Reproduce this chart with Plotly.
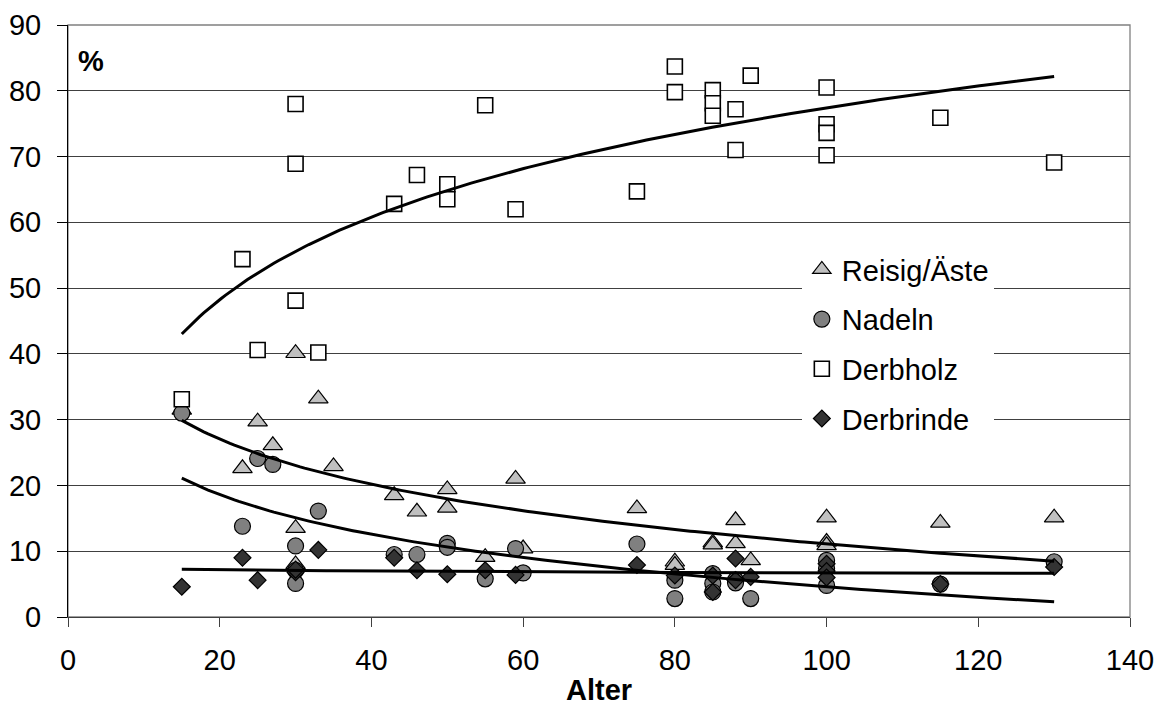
import numpy as np
import plotly.graph_objects as go

# ---------------- data ----------------
reisig_x = [15, 23, 25, 27, 30, 30, 30, 33, 35, 43, 46, 50, 50, 55, 59, 60, 75, 80, 80,
            85, 85, 88, 88, 90, 100, 100, 100, 115, 130]
reisig_y = [31.5, 22.6, 29.7, 26.1, 40.1, 13.5, 8.0, 33.2, 22.9, 18.5, 16.0, 19.4, 16.6,
            9.1, 21.0, 10.4, 16.5, 8.4, 7.9, 11.3, 11.0, 14.7, 11.2, 8.6, 15.1, 11.4, 10.9,
            14.3, 15.1]

nadeln_x = [15, 23, 25, 27, 30, 30, 30, 33, 43, 46, 50, 50, 55, 59, 60, 75, 80, 80,
            85, 85, 85, 88, 88, 90, 100, 100, 100, 115, 130]
nadeln_y = [31.0, 13.8, 24.1, 23.2, 10.8, 7.1, 5.1, 16.1, 9.5, 9.5, 11.2, 10.6, 5.8,
            10.4, 6.7, 11.1, 5.6, 2.8, 6.6, 5.1, 3.8, 5.6, 5.2, 2.8, 8.6, 7.4, 4.8, 5.0, 8.4]

derbholz_x = [15, 23, 25, 30, 30, 30, 33, 43, 46, 50, 50, 55, 59, 75, 80, 80,
              85, 85, 85, 88, 88, 90, 100, 100, 100, 100, 115, 130]
derbholz_y = [33.1, 54.4, 40.6, 78.0, 68.9, 48.1, 40.2, 62.8, 67.2, 65.8, 63.5, 77.8,
              62.0, 64.7, 83.7, 79.8, 80.1, 78.1, 76.2, 77.2, 71.0, 82.3, 80.5, 74.9,
              73.6, 70.2, 75.9, 69.1]

derbrinde_x = [15, 23, 25, 30, 30, 33, 43, 46, 50, 55, 59, 75, 80, 85, 85, 88, 88, 90,
               100, 100, 100, 115, 130]
derbrinde_y = [4.6, 9.0, 5.6, 6.8, 7.2, 10.2, 9.0, 7.1, 6.5, 7.1, 6.4, 7.9, 6.3, 6.3,
               3.8, 8.9, 5.6, 6.1, 8.1, 7.0, 6.0, 5.0, 7.6]

series_names = ["Reisig/Äste", "Nadeln", "Derbholz", "Derbrinde"]

x_ticks = [0, 20, 40, 60, 80, 100, 120, 140]
y_ticks = [0, 10, 20, 30, 40, 50, 60, 70, 80, 90]

FONT = "Liberation Sans, Arial, sans-serif"

fig = go.Figure()

marker_styles = [
    dict(symbol="triangle-up", size=17, color="#C0C0C0", line=dict(color="#000000", width=1.2)),
    dict(symbol="circle", size=16, color="#808080", line=dict(color="#000000", width=1.2)),
    dict(symbol="square", size=15, color="#FFFFFF", line=dict(color="#000000", width=1.6)),
    dict(symbol="diamond", size=13, color="#333333", line=dict(color="#000000", width=1.2)),
]
data = [(reisig_x, reisig_y), (nadeln_x, nadeln_y), (derbholz_x, derbholz_y),
        (derbrinde_x, derbrinde_y)]

for i, ((xs, ys), name, ms) in enumerate(zip(data, series_names, marker_styles)):
    fig.add_trace(go.Scatter(x=xs, y=ys, mode="markers", name=name, marker=ms,
                             legendgroup=name, showlegend=True))

# logarithmic trend lines (least-squares fit, as in the spreadsheet)
for (xs, ys), name in zip(data, series_names):
    xa = np.array(xs, dtype=float)
    ya = np.array(ys, dtype=float)
    b, a = np.polyfit(np.log(xa), ya, 1)
    xx = np.linspace(xa.min(), xa.max(), 200)
    fig.add_trace(go.Scatter(x=xx, y=a + b * np.log(xx), mode="lines",
                             line=dict(color="#000000", width=3), showlegend=False,
                             hoverinfo="skip"))

# the page body has an 8px default margin, so the margins compensate for it
fig.update_layout(
    width=1164, height=718,
    margin=dict(l=60, r=42, t=17, b=109),
    paper_bgcolor="white", plot_bgcolor="white",
    font=dict(family=FONT, size=29, color="#000000"),
    showlegend=True,
    legend=dict(x=0.691, y=0.63, xanchor="left", yanchor="top",
                bgcolor="white", borderwidth=0, tracegroupgap=9,
                font=dict(family=FONT, size=29, color="#000000")),
    shapes=[dict(type="rect", xref="paper", yref="paper", x0=0, x1=1, y0=0, y1=1,
                 line=dict(color="#808080", width=1.3), layer="below")],
    annotations=[
        dict(text="<b>%</b>", xref="paper", yref="paper", x=0.0217, y=0.939,
             xanchor="center", yanchor="middle", showarrow=False,
             font=dict(family=FONT, size=29, color="#000000")),
        dict(text="<b>Alter</b>", xref="paper", yref="paper", x=0.5, y=-0.123,
             xanchor="center", yanchor="middle", showarrow=False,
             font=dict(family=FONT, size=29, color="#000000")),
    ],
)

fig.update_xaxes(range=[0, 140], tickvals=x_ticks, ticktext=[str(v) for v in x_ticks],
                 showgrid=False, zeroline=False, showline=True, linecolor="#404040",
                 linewidth=1.3, ticks="outside", ticklen=9, tickcolor="#404040",
                 tickwidth=1.3, ticklabelstandoff=8, automargin=False,
                 tickfont=dict(family=FONT, size=29), fixedrange=True)
fig.update_yaxes(range=[0, 90], tickvals=y_ticks, ticktext=[str(v) for v in y_ticks],
                 showgrid=True, gridcolor="#404040", gridwidth=1, zeroline=False,
                 showline=True, linecolor="#000000", linewidth=1, ticks="outside",
                 ticklen=10, tickcolor="#000000", tickwidth=1, ticklabelstandoff=10,
                 automargin=False,
                 tickfont=dict(family=FONT, size=29), fixedrange=True)

fig.write_html("out.html")
